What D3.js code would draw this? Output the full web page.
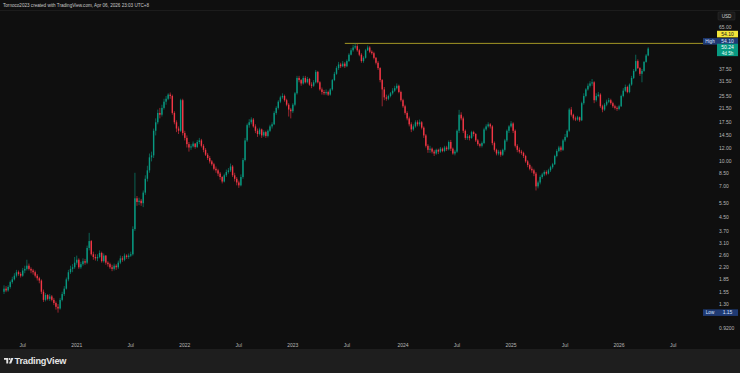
<!DOCTYPE html>
<html><head><meta charset="utf-8">
<script src="https://cdn.jsdelivr.net/npm/d3@7"></script>
<style>
html,body{margin:0;padding:0;background:#0f0f0f;}
svg{display:block;font-family:"Liberation Sans",Arial,sans-serif;}
</style></head><body>
<svg id="chart" width="740" height="373"></svg>
<script>
// weekly bars, first bar week of 2020-04-27, open = previous close
const firstWeek = "2020-04-27";
const firstOpen = 1.55;
const closes = [
1.62,1.58,1.66,1.78,1.85, 1.95,2.05,2.00,1.95,2.10, 2.15,2.25,2.15,2.10,2.05, 1.95,1.88,1.82,1.55,1.38,
1.48,1.40,1.45,1.38,1.32, 1.25,1.22,1.38,1.50,1.62, 1.85,2.05,2.15,2.20,2.35, 2.45,2.20,2.30,2.40,2.35,
2.90,3.20,2.65,2.55,2.50, 2.55,2.70,2.40,2.60,2.35, 2.30,2.20,2.15,2.25,2.20, 2.35,2.50,2.45,2.60,2.55,
2.60,2.65,3.80,5.90,5.60, 5.70,5.50,6.40,7.80,8.80, 10.6,10.9,15.5,17.5,20.0, 19.5,21.5,23.5,24.5,26.0,
25.5,20.0,17.5,16.0,15.5, 24.0,15.0,14.0,12.8,12.2, 12.4,12.9,12.3,13.2,13.5, 12.5,11.8,11.0,10.5,10.0,
9.6,9.0,8.8,8.4,8.0, 7.5,8.2,8.6,8.8,9.3, 8.2,7.8,7.4,7.1,8.0, 10.2,13.5,16.8,17.5,18.2,
16.5,15.5,14.8,15.8,14.5, 15.2,14.4,15.5,16.5,17.0, 20.0,21.5,23.5,25.0,25.5, 24.0,22.5,21.0,20.5,22.5,
26.5,33.0,32.0,30.5,33.0, 31.0,32.5,30.0,29.5,31.0, 36.0,31.0,28.0,27.0,26.5, 27.0,26.0,28.0,32.0,35.0,
38.0,40.0,39.0,40.5,39.0, 42.0,46.0,49.0,51.0,52.0, 49.0,46.0,42.0,44.0,49.0, 51.0,48.0,47.0,44.0,41.0,
38.0,32.0,28.0,25.0,24.5, 25.5,26.5,27.5,28.5,29.5, 27.0,24.0,22.0,20.0,18.5, 17.0,15.8,16.5,17.5,17.0,
17.5,16.2,14.5,12.5,11.8, 12.0,11.5,11.2,11.8,11.5, 12.0,11.6,12.2,11.9,13.2, 12.0,11.2,11.5,15.5,19.5,
18.5,15.5,14.0,14.3,14.0, 15.2,14.8,13.5,12.8,12.5, 13.0,15.8,16.5,17.0,16.5, 13.0,11.8,11.2,11.5,11.0,
11.8,13.5,15.5,16.5,17.2, 15.5,12.5,11.8,11.5,11.3, 10.8,10.0,9.5,9.0,8.8, 8.4,7.0,7.4,8.0,8.3,
8.6,8.4,8.8,9.2,9.6, 10.8,11.6,12.2,11.8,13.5, 14.2,15.5,21.0,19.5,18.5, 18.2,18.8,18.0,23.0,25.5,
28.0,29.5,30.5,31.0,24.0, 25.5,26.0,22.0,21.0,22.5, 23.5,24.0,23.0,22.0,21.5, 21.2,22.0,25.5,27.5,29.0,
27.0,30.0,33.0,36.5,42.0, 38.0,35.0,36.5,41.5,45.5, 50.24
];
const highs = [
1.70,1.68,1.70,1.82,1.92, 2.02,2.12,2.10,2.05,2.18, 2.25,2.45,2.32,2.20,2.15, 2.10,2.00,1.92,1.85,1.60,
1.52,1.50,1.50,1.48,1.42, 1.35,1.30,1.42,1.55,1.68, 1.90,2.12,2.25,2.30,2.55, 2.60,2.50,2.38,2.50,2.48,
3.00,3.60,3.25,2.75,2.65, 2.65,2.80,2.75,2.68,2.62, 2.40,2.35,2.28,2.32,2.30, 2.42,2.60,2.58,2.68,2.65,
2.68,2.75,3.95,8.50,6.10, 5.95,5.85,6.60,8.20,9.40, 11.2,11.5,16.0,18.5,21.0, 21.5,22.5,24.5,25.5,26.5,
26.8,26.0,20.5,18.0,16.5, 24.5,24.5,15.5,14.5,13.2, 12.8,13.3,13.0,13.6,14.0, 13.8,12.8,12.1,11.3,10.8,
10.2,9.8,9.3,9.0,8.6, 8.1,8.4,8.9,9.1,9.7, 9.5,8.5,8.0,7.6,8.3, 10.5,14.0,17.2,18.3,18.8,
18.6,17.0,16.0,16.2,16.0, 15.6,15.5,15.8,16.9,17.5, 20.5,22.0,24.0,25.6,26.5, 26.0,24.5,23.0,21.5,23.0,
27.0,34.0,34.0,32.5,34.0, 34.0,33.5,33.0,31.0,32.0, 37.0,36.5,31.5,28.8,27.8, 28.0,27.5,28.5,32.5,36.0,
39.0,41.5,41.0,42.0,41.5, 43.0,47.0,50.5,53.0,54.1, 53.5,50.0,47.0,45.0,50.0, 52.5,52.0,49.0,48.0,44.5,
42.0,38.5,32.5,29.0,26.0, 26.0,27.0,28.5,29.5,30.5, 30.0,27.5,24.5,22.5,20.5, 19.0,17.5,17.0,18.0,18.0,
18.2,17.8,16.5,14.8,12.8, 12.5,12.2,11.8,12.0,12.0, 12.3,12.2,12.5,12.5,13.5, 13.6,12.2,11.8,15.8,20.9,
20.2,19.0,15.8,14.8,14.6, 15.5,15.5,15.0,13.8,13.0, 13.3,16.2,17.0,17.5,17.3, 16.8,13.3,12.0,11.8,11.8,
12.0,13.8,15.8,16.8,17.8, 17.5,15.8,12.8,12.2,11.8, 11.5,11.0,10.2,9.7,9.3, 9.0,8.6,7.6,8.2,8.5,
8.8,8.8,9.0,9.4,9.8, 11.0,11.9,12.5,12.5,13.8, 14.8,15.8,21.5,21.8,19.8, 19.0,19.2,19.0,23.5,26.5,
28.5,30.5,31.5,32.5,31.5, 26.5,27.0,26.5,22.5,23.0, 24.2,24.8,24.5,23.5,22.5, 22.0,22.5,26.0,28.5,30.0,
29.5,30.5,34.0,37.5,46.0, 43.0,38.5,37.5,42.0,46.5, 51.2
];
const lows = [
1.50,1.54,1.55,1.62,1.74, 1.82,1.90,1.95,1.90,1.92, 2.02,2.10,2.10,2.02,1.98, 1.90,1.82,1.75,1.50,1.34,
1.35,1.37,1.36,1.35,1.28, 1.20,1.15,1.20,1.35,1.46, 1.60,1.80,2.00,2.05,2.15, 2.28,2.15,2.15,2.25,2.28,
2.30,2.80,2.60,2.45,2.42, 2.40,2.50,2.35,2.35,2.28, 2.22,2.15,2.08,2.10,2.12, 2.15,2.30,2.38,2.40,2.48,
2.48,2.55,2.60,3.70,5.30, 5.35,5.30,5.20,6.20,7.50, 8.50,10.0,10.5,14.5,17.0, 18.5,19.0,21.0,22.5,24.0,
24.5,19.5,17.0,15.2,14.8, 15.2,14.5,13.5,12.2,11.5, 11.8,12.2,12.0,12.1,12.8, 12.2,11.4,10.8,10.2,9.7,
9.4,8.8,8.5,8.1,7.7, 7.3,7.4,8.0,8.4,8.6, 8.0,7.5,7.1,6.85,7.0, 7.8,10.0,13.2,16.2,17.0,
16.2,15.0,14.2,14.5,14.0, 14.2,14.0,14.1,15.2,16.0, 16.8,19.5,21.0,23.0,24.5, 23.5,22.0,19.0,18.5,20.0,
22.0,26.0,31.0,29.5,30.0, 30.5,30.5,29.5,28.5,29.0, 30.5,30.5,27.5,26.0,25.8, 25.8,25.5,25.6,27.5,31.5,
34.5,37.0,38.0,38.5,38.0, 38.5,41.5,45.5,48.0,50.0, 48.0,45.0,41.0,41.0,43.5, 48.5,47.0,46.0,43.0,40.0,
37.0,31.0,22.0,24.0,23.8, 24.0,25.0,26.0,27.0,28.0, 26.5,23.5,21.5,19.5,18.0, 16.5,15.2,15.5,16.2,16.5,
16.5,15.8,14.0,12.2,11.3, 11.3,11.2,10.8,11.0,11.1, 11.3,11.4,11.4,11.6,11.7, 11.6,11.0,10.9,11.3,15.0,
18.0,15.0,13.6,13.6,13.5, 13.8,14.3,13.2,12.5,12.2, 12.2,12.8,15.5,16.2,16.0, 12.6,11.5,10.9,10.9,10.7,
10.8,11.5,13.2,15.0,16.2, 15.0,12.2,11.4,11.2,11.0, 10.5,9.8,9.2,8.8,8.5, 8.1,6.6,6.8,7.2,7.8,
8.1,8.2,8.3,8.6,9.0, 9.5,10.6,11.4,11.5,11.6, 13.2,14.0,15.2,19.0,18.0, 17.8,17.9,17.6,17.8,22.5,
25.0,27.5,28.8,29.5,23.0, 23.5,25.0,21.5,20.2,20.6, 22.0,23.0,22.5,21.5,21.0, 20.6,20.8,21.8,25.0,27.0,
26.5,26.5,29.5,32.5,36.0, 37.5,34.0,31.0,36.0,41.0, 45.0
];
const priceTicks = [65, 37.5, 31.5, 25.5, 21.5, 17.5, 14.5, 12, 10, 8.5, 7, 5.5, 4.5, 3.7, 3.1, 2.6, 2.2, 1.85, 1.55, 1.3, 0.92];
const timeTickDates = ["2020-07-01","2021-01-01","2021-07-01","2022-01-01","2022-07-01","2023-01-01","2023-07-01","2024-01-01","2024-07-01","2025-01-01","2025-07-01","2026-01-01","2026-07-01"];
const timeTickLabels = ["Jul","2021","Jul","2022","Jul","2023","Jul","2024","Jul","2025","Jul","2026","Jul"];
const highValue = 54.10, lowValue = 1.15, lastValue = 50.24;
const headerText = "Tornoco2023 created with TradingView.com, Apr 06, 2026 23:03 UTC+8";

const W = 740, H = 373;
const plot = {left: 0, right: 703, top: 10, bottom: 338};
const UP = "#089981", DOWN = "#f23645";

const parse = d3.utcParse("%Y-%m-%d");
const start = parse(firstWeek);
const bars = closes.map((c, i) => ({
    date: d3.utcDay.offset(start, 7 * i),
    open: i ? closes[i - 1] : firstOpen,
    high: highs[i], low: lows[i], close: c
}));

const x = d3.scaleUtc()
    .domain([start, bars[bars.length - 1].date])
    .range([4, 648.2]);
const y = d3.scaleLog().domain([0.80, 87.2]).range([plot.bottom, plot.top]);

const svg = d3.select("#chart");
svg.append("rect").attr("width", W).attr("height", H).attr("fill", "#0f0f0f");
// footer strip with logo
svg.append("rect").attr("x", 0).attr("y", 349).attr("width", W).attr("height", H - 349).attr("fill", "#1e1e1e");
svg.append("line").attr("x1", 0).attr("x2", W).attr("y1", 10.5).attr("y2", 10.5).attr("stroke", "#1c1c1c");

svg.append("text").attr("x", 3).attr("y", 6.8)
    .attr("font-size", 4.6).attr("fill", "#c8c8c8").text(headerText);

svg.append("defs").append("clipPath").attr("id", "clip")
    .append("rect").attr("x", plot.left).attr("y", plot.top)
    .attr("width", plot.right - plot.left).attr("height", plot.bottom - plot.top);

const g = svg.append("g").attr("clip-path", "url(#clip)");

// high line from the peak area to the scale
g.append("line")
    .attr("x1", x(bars[164].date)).attr("x2", plot.right)
    .attr("y1", y(highValue)).attr("y2", y(highValue))
    .attr("stroke", "#c9b92a").attr("stroke-width", 0.8);

const candle = g.selectAll("g.bar").data(bars).join("g").attr("class", "bar");
candle.append("line")
    .attr("x1", d => x(d.date)).attr("x2", d => x(d.date))
    .attr("y1", d => y(d.high)).attr("y2", d => y(d.low))
    .attr("stroke", d => d.close >= d.open ? UP : DOWN)
    .attr("stroke-width", 0.6);
candle.append("rect")
    .attr("x", d => x(d.date) - 0.7).attr("width", 1.4)
    .attr("y", d => y(Math.max(d.open, d.close)))
    .attr("height", d => Math.max(0.6, Math.abs(y(d.open) - y(d.close))))
    .attr("fill", d => d.close >= d.open ? UP : DOWN);

// price scale
const axisX = 719;
svg.append("g").selectAll("text").data(priceTicks).join("text")
    .attr("x", axisX)
    .attr("y", d => (d === 65 ? y(d) - 3.5 : y(d)) + 1.8)
    .attr("font-size", 5).attr("fill", "#b8b8b8")
    .text(d => d < 1 ? d.toFixed(4) : d.toFixed(2));

// USD box
svg.append("rect").attr("x", 718).attr("y", 12).attr("width", 17).attr("height", 8)
    .attr("rx", 1).attr("fill", "#1a1a1a").attr("stroke", "#333").attr("stroke-width", 0.5);
svg.append("text").attr("x", 726.5).attr("y", 17.8).attr("text-anchor", "middle")
    .attr("font-size", 4.6).attr("fill", "#d0d0d0").text("USD");

function priceLabel(cy, bg, fg, txt) {
    svg.append("rect").attr("x", 717).attr("y", cy - 3.3).attr("width", 21).attr("height", 6.6)
        .attr("fill", bg);
    svg.append("text").attr("x", 727.5).attr("y", cy + 1.8).attr("text-anchor", "middle")
        .attr("font-size", 5).attr("fill", fg).text(txt);
}
priceLabel(y(highValue) - 9.3, "#f2e53a", "#1a1a1a", highValue.toFixed(2));
// High marker
svg.append("rect").attr("x", 703).attr("y", y(highValue) - 5.3).attr("width", 14).attr("height", 6.6).attr("fill", "#1f3a73");
svg.append("text").attr("x", 710).attr("y", y(highValue) - 0.2).attr("text-anchor", "middle")
    .attr("font-size", 4.6).attr("fill", "#d8e2ff").text("High");
priceLabel(y(highValue) - 2, "#1f3a73", "#d8e2ff", highValue.toFixed(2));
// last price (with countdown)
svg.append("rect").attr("x", 717).attr("y", y(lastValue) - 4.8).attr("width", 21).attr("height", 12.4).attr("fill", UP);
svg.append("text").attr("x", 727.5).attr("y", y(lastValue) + 0.3).attr("text-anchor", "middle")
    .attr("font-size", 5).attr("fill", "#ffffff").text(lastValue.toFixed(2));
svg.append("text").attr("x", 727.5).attr("y", y(lastValue) + 6).attr("text-anchor", "middle")
    .attr("font-size", 4.6).attr("fill", "#e8fff8").text("4d 5h");
// Low marker
svg.append("rect").attr("x", 703).attr("y", y(lowValue) - 3.3).attr("width", 14).attr("height", 6.6).attr("fill", "#1f3a73");
svg.append("text").attr("x", 710).attr("y", y(lowValue) + 1.8).attr("text-anchor", "middle")
    .attr("font-size", 4.6).attr("fill", "#d8e2ff").text("Low");
priceLabel(y(lowValue), "#1f3a73", "#d8e2ff", lowValue.toFixed(2));

// time scale: tick sits on the weekly bar containing the date
svg.append("g").selectAll("text").data(timeTickDates).join("text")
    .attr("x", d => x(d3.utcMonday.floor(parse(d))))
    .attr("y", 346.5).attr("text-anchor", "middle")
    .attr("font-size", 5).attr("fill", "#b8b8b8")
    .text((d, i) => timeTickLabels[i]);

// TradingView logo
const logo = svg.append("g").attr("transform", "translate(4,358)").attr("fill", "#e6e6e6");
logo.append("path").attr("d", "M0 0H4.2V5.4H2.3V1.8H0Z");
logo.append("circle").attr("cx", 5.6).attr("cy", 1).attr("r", 0.95);
logo.append("path").attr("d", "M7.2 0H9.4L7.2 5.4H5Z");
svg.append("text").attr("x", 14.5).attr("y", 364.2)
    .attr("font-size", 9.2).attr("font-weight", 600).attr("fill", "#e6e6e6")
    .attr("letter-spacing", -0.2).text("TradingView");
</script>
</body></html>
